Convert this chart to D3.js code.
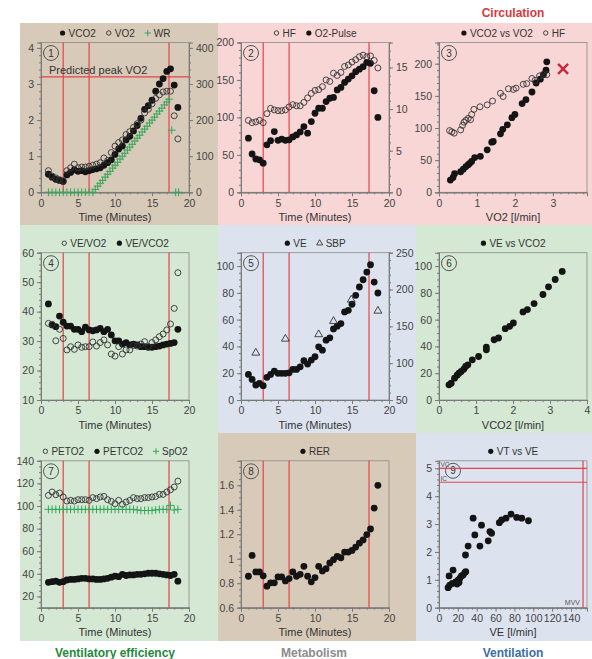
<!DOCTYPE html>
<html>
<head>
<meta charset="utf-8">
<script src="https://cdn.jsdelivr.net/npm/d3@7"></script>
<style>
body { margin: 0; background: #fff; }
text { font-family: "Liberation Sans Narrow", "Liberation Sans", Arial, sans-serif; }
</style>
</head>
<body>
<div id="chart"></div>
<script>
// time of each breath-average sample (minutes)
var time = [1, 1.5, 2, 2.5, 3, 3.5, 4, 4.5, 5, 5.5, 6, 6.5, 7, 7.5, 8, 8.5, 9, 9.5, 10, 10.5, 11, 11.5, 12, 12.5, 13, 13.5, 14, 14.5, 15, 15.5, 16, 16.5, 17, 17.5, 18, 18.5];

// panel 1
var vco2 = [0.50, 0.42, 0.36, 0.33, 0.30, 0.48, 0.55, 0.62, 0.58, 0.60, 0.57, 0.60, 0.63, 0.65, 0.68, 0.75, 0.82, 0.90, 1.05, 1.20, 1.28, 1.45, 1.55, 1.70, 1.85, 2.05, 2.30, 2.40, 2.55, 2.80, 3.00, 3.15, 3.35, 3.42, 2.97, 2.35];
var vo2 = [0.60, 0.45, 0.40, 0.35, 0.32, 0.60, 0.68, 0.78, 0.68, 0.70, 0.70, 0.72, 0.75, 0.78, 0.82, 0.95, 0.88, 1.10, 1.28, 1.38, 1.45, 1.60, 1.68, 1.80, 1.90, 2.00, 2.20, 2.30, 2.45, 2.60, 2.70, 2.78, 2.80, 2.80, 2.12, 1.48];
var wrTime = [1, 1.5, 2, 2.5, 3, 3.5, 4, 4.5, 5, 5.5, 6, 6.5, 7, 7.33, 7.67, 8, 8.33, 8.67, 9, 9.33, 9.67, 10, 10.33, 10.67, 11, 11.33, 11.67, 12, 12.33, 12.67, 13, 13.33, 13.67, 14, 14.33, 14.67, 15, 15.33, 15.67, 16, 16.33, 16.67, 17, 17.33, 17.67, 18.2, 18.6];
var wr = [0, 0, 0, 0, 0, 0, 0, 0, 0, 0, 0, 0, 0, 8, 17, 25, 33, 42, 50, 58, 67, 75, 83, 92, 100, 108, 117, 125, 133, 142, 150, 158, 167, 175, 183, 192, 200, 208, 217, 225, 233, 242, 250, 258, 172, 0, 0];

// panel 2
var hf = [96, 93, 94, 96, 93, 105, 112, 110, 109, 109, 110, 114, 117, 115.5, 115.5, 120, 126, 132, 136, 137, 141, 150, 148, 159, 156, 160, 168, 170, 174, 177, 181, 183, 181, 182, 176, 166];
var o2pulse = [6.5, 4.6, 4.0, 3.9, 3.5, 5.7, 6.2, 7.3, 6.25, 6.4, 6.25, 6.3, 6.65, 6.9, 7.25, 7.9, 7.1, 8.5, 9.5, 10.1, 10.1, 10.9, 11.3, 11.4, 12.3, 12.6, 13.2, 13.6, 14.0, 14.5, 14.8, 15.1, 15.6, 15.5, 12.2, 9.0];

// panel 3
var p3vo2 = [0.30, 0.37, 0.41, 0.57, 0.64, 0.71, 0.77, 0.81, 0.86, 0.94, 1.09, 1.27, 1.39, 1.43, 1.62, 1.68, 1.80, 1.92, 2.00, 2.19, 2.29, 2.45, 2.56, 2.67, 2.75, 2.82, 2.84];
var p3vco2 = [19, 23, 29, 32, 36, 40, 43, 45, 48, 54, 56, 66, 78, 79, 91, 98, 105, 116, 121, 138, 144, 156, 170, 176, 183, 190, 203];
var p3hfVo2 = [0.28, 0.34, 0.40, 0.57, 0.62, 0.66, 0.71, 0.77, 0.83, 0.86, 0.92, 1.08, 1.27, 1.41, 1.62, 1.69, 1.83, 1.96, 2.03, 2.22, 2.31, 2.45, 2.53, 2.65, 2.75, 2.84];
var p3hf = [96, 94, 92, 97, 104, 109, 112, 115, 113, 121, 129, 133, 136, 142, 154, 149, 161, 160, 162, 168, 169, 177, 174, 181, 183, 183];
var peakMark = [3.27, 192];

// panel 4
var veVo2 = [36.0, 35.7, 30.1, 34.0, 30.9, 27.0, 28.1, 27.2, 28.7, 27.9, 28.1, 28.1, 29.7, 28.3, 29.5, 30.4, 28.7, 25.6, 24.9, 28.1, 25.6, 27.0, 27.0, 28.5, 28.3, 29.0, 29.8, 28.1, 29.5, 30.4, 31.5, 32.4, 33.8, 35.8, 41.1, 53.2];
var veVco2 = [42.6, 35.5, 34.9, 38.5, 36.4, 35.1, 35.1, 34.0, 34.0, 33.2, 34.7, 33.8, 33.5, 33.8, 34.3, 33.2, 34.0, 32.1, 30.1, 30.1, 29.0, 29.5, 28.7, 29.0, 28.7, 28.1, 28.1, 27.9, 27.9, 28.1, 28.3, 28.7, 29.0, 29.2, 29.5, 34.0];

// panel 5
var ve = [19.1, 15.4, 11.2, 12.4, 10.7, 16.9, 19.1, 21.6, 19.9, 19.9, 19.9, 20.3, 22.8, 22.8, 24.8, 29.3, 26.8, 29.8, 32.3, 39.7, 37.2, 44.7, 46.4, 53.1, 55.1, 57.1, 65.8, 67.0, 71.5, 78.2, 84.4, 89.8, 95.5, 101, 88.1, 79.9];
var sbpTime = [2, 6, 10.5, 12.5, 14.9, 18.5];
var sbp = [114, 133, 139, 157, 186, 171];

// panel 6
var p6vco2 = [0.27, 0.33, 0.42, 0.49, 0.54, 0.60, 0.67, 0.72, 0.78, 0.90, 1.07, 1.28, 1.28, 1.49, 1.61, 1.79, 1.91, 2.01, 2.27, 2.39, 2.57, 2.81, 2.96, 3.14, 3.33];
var p6ve = [11.3, 12.5, 16.3, 18.5, 20, 21.3, 23, 25, 26.3, 30, 32.5, 39.5, 37.5, 45, 46.3, 53.3, 55, 57.5, 65.8, 67.5, 72, 78.8, 84.5, 90, 96];

// panel 7
var peto2 = [109.4, 112.4, 110, 111.5, 108, 104.4, 105, 104.4, 105.6, 105.6, 105.6, 105, 107.4, 106.5, 108, 108.5, 105.6, 104.1, 102, 105, 101.5, 103.5, 105, 107.4, 106.5, 106.5, 107.4, 107.4, 108, 108.5, 110.3, 110.3, 112.4, 114.4, 116.8, 122];
var petco2 = [32.5, 33, 33.5, 32.5, 33, 34.5, 35, 35, 35.5, 36, 36, 35.5, 35.5, 35, 35, 35.5, 36, 37, 38, 37.5, 39.5, 38.5, 39, 39, 39.5, 39.5, 40, 40.5, 40.5, 40.5, 40, 39.5, 39, 38.5, 39.5, 33.5];
var spo2 = [97, 97, 97, 97, 97, 97, 97, 97, 97, 97, 97, 97, 97, 97, 97, 97, 97, 97, 97, 97, 97, 97, 97, 97, 96.5, 96, 96, 96, 96, 96.5, 97, 97, 97, 100.5, 96.5, 97];

// panel 8
var rer = [0.857, 1.027, 0.892, 0.892, 0.86, 0.776, 0.803, 0.803, 0.851, 0.851, 0.819, 0.838, 0.892, 0.857, 0.873, 0.938, 0.857, 0.811, 0.846, 0.938, 0.9, 0.919, 0.965, 0.992, 1.019, 1.008, 1.054, 1.054, 1.068, 1.095, 1.127, 1.154, 1.197, 1.243, 1.414, 1.6];

// panel 9
var p9ve = [9.6, 11.4, 10.7, 14.9, 17.8, 19.2, 20.3, 22, 23.8, 25.6, 27.4, 28.4, 28.1, 30.9, 36.2, 38, 43.4, 45.1, 52.2, 54, 55.8, 64, 66.5, 71.1, 76.4, 82.4, 87.8, 94.9, 14.2, 21.3];
var p9vt = [0.72, 0.81, 1.14, 1.35, 0.93, 0.85, 0.99, 1.05, 1.14, 1.17, 1.26, 1.29, 1.89, 2.21, 3.21, 2.61, 2.21, 2.96, 2.40, 2.73, 2.67, 3.05, 3.15, 3.21, 3.36, 3.24, 3.21, 3.12, 0.87, 0.90];

// thresholds
var phaseLines = [3, 6.5, 17.3];
var predictedPeakVo2 = 3.2;
var vc = 5.0, ic = 4.5, mvv = 152.8;

var BROWN = '#d8cab8', PINK = '#f8d6d6', GREEN = '#d4e8d3', BLUE = '#dde3ee';
var RED = '#e5434a', PLUSGREEN = '#35a65a';

var svg = d3.select('#chart').append('svg').attr('width', 592).attr('height', 659);

var cols = [{ x0: 20, x1: 218, px: 41 }, { x0: 218, x1: 416, px: 241 }, { x0: 416, x1: 592, px: 439 }];
var rows = [{ y0: 23, y1: 225, top: 42.5, bot: 192.3 }, { y0: 225, y1: 433, top: 252.7, bot: 400 }, { y0: 433, y1: 641, top: 460.8, bot: 607.7 }];
var W = 148;

function styleAxis(a, fs) {
	a.select('.domain').attr('stroke', '#7a7a7a');
	a.selectAll('.tick line').attr('stroke', '#7a7a7a');
	a.selectAll('.tick text').attr('fill', '#444').style('font-size', fs + 'px');
}

function addAxis(g, gen, scale, major, minor, fmt, tx, ty) {
	var m = g.append('g').attr('transform', 'translate(' + tx + ',' + ty + ')')
		.call(gen(scale).tickValues(minor).tickSize(2).tickFormat(''));
	styleAxis(m, 10.5);
	var a = g.append('g').attr('transform', 'translate(' + tx + ',' + ty + ')')
		.call(gen(scale).tickValues(major).tickSize(4).tickPadding(3).tickFormat(fmt || d3.format('')));
	styleAxis(a, 10.5);
}

function marker(g, type, cx, cy, r) {
	if (type == 'filled') {
		g.append('circle').attr('cx', cx).attr('cy', cy).attr('r', r).attr('fill', '#141414');
	} else if (type == 'open') {
		g.append('circle').attr('cx', cx).attr('cy', cy).attr('r', r - 0.4).attr('fill', 'none').attr('stroke', '#333').attr('stroke-width', 0.9);
	} else if (type == 'plus') {
		g.append('path').attr('d', 'M' + (cx - r - 0.5) + ',' + cy + 'H' + (cx + r + 0.5) + 'M' + cx + ',' + (cy - r - 0.5) + 'V' + (cy + r + 0.5))
			.attr('stroke', PLUSGREEN).attr('stroke-width', 1);
	} else if (type == 'tri') {
		g.append('path').attr('d', d3.symbol().type(d3.symbolTriangle).size(r * r * 2.3)())
			.attr('transform', 'translate(' + cx + ',' + cy + ')')
			.attr('fill', 'none').attr('stroke', '#333').attr('stroke-width', 0.9);
	}
}

function Panel(o) {
	var c = cols[o.col], r = rows[o.row];
	svg.append('rect').attr('x', c.x0).attr('y', r.y0).attr('width', c.x1 - c.x0).attr('height', r.y1 - r.y0).attr('fill', o.bg);
	var left = c.px, right = c.px + W, top = r.top, bot = r.bot;
	var x = d3.scaleLinear().domain(o.xd).range([left, right]);
	var y = d3.scaleLinear().domain(o.yd).range([bot, top]);
	var g = svg.append('g');

	g.append('rect').attr('x', left).attr('y', top).attr('width', W).attr('height', bot - top)
		.attr('fill', 'none').attr('stroke', '#8a8a8a').attr('stroke-width', 0.8);

	addAxis(g, d3.axisBottom, x, o.xMajor, o.xMinor, o.xFmt, 0, bot);
	addAxis(g, d3.axisLeft, y, o.yMajor, o.yMinor, o.yFmt, left, 0);
	var y2 = null;
	if (o.y2d) {
		y2 = d3.scaleLinear().domain(o.y2d).range([bot, top]);
		addAxis(g, d3.axisRight, y2, o.y2Major, o.y2Minor, null, right, 0);
	}

	g.append('text').attr('x', (left + right) / 2).attr('y', bot + 28.7)
		.attr('text-anchor', 'middle').style('font-size', '11px').attr('fill', '#333').text(o.xTitle);

	// legend
	var lg = g.append('g');
	var lx = 0;
	o.legend.forEach(function(it) {
		marker(lg, it[0], lx + 3, 0, 2.6);
		var t = lg.append('text').attr('x', lx + 9).attr('y', 3.6).style('font-size', '10px').attr('fill', '#333').text(it[1]);
		lx += 9 + t.node().getComputedTextLength() + 10;
	});
	lx -= 10;
	lg.attr('transform', 'translate(' + ((left + right) / 2 - lx / 2) + ',' + (top - 9.5) + ')');

	// circled panel number
	var nx = left + (o.numDx || 10), ny = top + (o.numDy || 10.5);
	g.append('circle').attr('cx', nx).attr('cy', ny).attr('r', 7.5).attr('fill', 'none').attr('stroke', '#555').attr('stroke-width', 1);
	g.append('text').attr('x', nx).attr('y', ny + 3.5).attr('text-anchor', 'middle').style('font-size', '10px').attr('fill', '#333').text(o.num);

	return { x: x, y: y, y2: y2, g: g, left: left, right: right, top: top, bot: bot };
}

function vLines(p, vals) {
	p.g.selectAll(null).data(vals).enter().append('line')
		.attr('x1', function(d) { return p.x(d); }).attr('x2', function(d) { return p.x(d); })
		.attr('y1', p.top).attr('y2', p.bot)
		.attr('stroke', RED).attr('stroke-width', 1.2);
}

function points(p, xs, ys, type, yScale) {
	var ys2 = yScale || p.y;
	xs.forEach(function(v, i) {
		marker(p.g, type, p.x(v), ys2(ys[i]), 3.4);
	});
}

var timeMajor = [0, 5, 10, 15, 20], timeMinor = d3.range(0, 20.01, 1);
var T = 'Time (Minutes)';

// 1
var p1 = Panel({ col: 0, row: 0, bg: BROWN, xd: [0, 20], yd: [0, 4.15], xMajor: timeMajor, xMinor: timeMinor,
	yMajor: [0, 1, 2, 3, 4], yMinor: d3.range(0, 4.15, 0.2), y2d: [0, 415], y2Major: [0, 100, 200, 300, 400], y2Minor: d3.range(0, 415, 20),
	xTitle: T, num: '1', legend: [['filled', 'VCO2'], ['open', 'VO2'], ['plus', 'WR']] });
vLines(p1, phaseLines);
p1.g.append('line').attr('x1', p1.left).attr('x2', p1.right).attr('y1', p1.y(predictedPeakVo2)).attr('y2', p1.y(predictedPeakVo2))
	.attr('stroke', RED).attr('stroke-width', 1.2);
p1.g.append('text').attr('x', p1.left + 8).attr('y', p1.y(predictedPeakVo2) - 3).style('font-size', '11px').attr('fill', '#333').text('Predicted peak VO2');
points(p1, time, vco2, 'filled');
points(p1, time, vo2, 'open');
points(p1, wrTime, wr, 'plus', p1.y2);

// 2
var p2 = Panel({ col: 1, row: 0, bg: PINK, xd: [0, 20], yd: [0, 200], xMajor: timeMajor, xMinor: timeMinor,
	yMajor: [0, 50, 100, 150, 200], yMinor: d3.range(0, 201, 10), y2d: [0, 18], y2Major: [0, 5, 10, 15], y2Minor: d3.range(0, 18.01, 1),
	xTitle: T, num: '2', legend: [['open', 'HF'], ['filled', 'O2-Pulse']] });
vLines(p2, phaseLines);
points(p2, time, o2pulse, 'filled', p2.y2);
points(p2, time, hf, 'open');

// 3
var p3 = Panel({ col: 2, row: 0, bg: PINK, xd: [0, 3.9], yd: [0, 233], xMajor: [0, 1, 2, 3], xMinor: d3.range(0, 3.9, 0.2),
	yMajor: [0, 50, 100, 150, 200], yMinor: d3.range(0, 233, 10),
	xTitle: 'VO2 [l/min]', num: '3', legend: [['filled', 'VCO2 vs VO2'], ['open', 'HF']] });
points(p3, p3vo2, p3vco2, 'filled');
points(p3, p3hfVo2, p3hf, 'open');
var mx = p3.x(peakMark[0]), my = p3.y(peakMark[1]);
p3.g.append('path').attr('d', 'M' + (mx - 5) + ',' + (my - 5) + 'L' + (mx + 5) + ',' + (my + 5) + 'M' + (mx - 5) + ',' + (my + 5) + 'L' + (mx + 5) + ',' + (my - 5))
	.attr('stroke', '#c8283a').attr('stroke-width', 2.4);

// 4
var p4 = Panel({ col: 0, row: 1, bg: GREEN, xd: [0, 20], yd: [10, 60], xMajor: timeMajor, xMinor: timeMinor,
	yMajor: [10, 20, 30, 40, 50, 60], yMinor: d3.range(10, 60.1, 2),
	xTitle: T, num: '4', legend: [['open', 'VE/VO2'], ['filled', 'VE/VCO2']] });
vLines(p4, phaseLines);
points(p4, time, veVco2, 'filled');
points(p4, time, veVo2, 'open');

// 5
var p5 = Panel({ col: 1, row: 1, bg: BLUE, xd: [0, 20], yd: [0, 110], xMajor: timeMajor, xMinor: timeMinor,
	yMajor: [0, 20, 40, 60, 80, 100], yMinor: d3.range(0, 110, 5), y2d: [50, 250], y2Major: [50, 100, 150, 200, 250], y2Minor: d3.range(50, 251, 10),
	xTitle: T, num: '5', legend: [['filled', 'VE'], ['tri', 'SBP']] });
vLines(p5, phaseLines);
points(p5, time, ve, 'filled');
points(p5, sbpTime, sbp, 'tri', p5.y2);

// 6
var p6 = Panel({ col: 2, row: 1, bg: GREEN, xd: [0, 4], yd: [0, 110], xMajor: [0, 1, 2, 3, 4], xMinor: d3.range(0, 4.01, 0.2),
	yMajor: [0, 20, 40, 60, 80, 100], yMinor: d3.range(0, 110, 5),
	xTitle: 'VCO2 [l/min]', num: '6', legend: [['filled', 'VE vs VCO2']] });
points(p6, p6vco2, p6ve, 'filled');

// 7
var p7 = Panel({ col: 0, row: 2, bg: GREEN, xd: [0, 20], yd: [10, 140], xMajor: timeMajor, xMinor: timeMinor,
	yMajor: [20, 40, 60, 80, 100, 120, 140], yMinor: d3.range(10, 140.1, 5),
	xTitle: T, num: '7', legend: [['open', 'PETO2'], ['filled', 'PETCO2'], ['plus', 'SpO2']] });
vLines(p7, phaseLines);
points(p7, time, petco2, 'filled');
points(p7, time, peto2, 'open');
points(p7, time, spo2, 'plus');

// 8
var p8 = Panel({ col: 1, row: 2, bg: BROWN, xd: [0, 20], yd: [0.6, 1.8], xMajor: timeMajor, xMinor: timeMinor,
	yMajor: [0.6, 0.8, 1, 1.2, 1.4, 1.6], yMinor: d3.range(0.6, 1.8, 0.05), yFmt: function(d) { return +d.toFixed(1); },
	xTitle: T, num: '8', legend: [['filled', 'RER']] });
vLines(p8, phaseLines);
points(p8, time, rer, 'filled');

// 9
var p9 = Panel({ col: 2, row: 2, bg: BLUE, xd: [0, 157], yd: [0, 5.27], xMajor: [0, 20, 40, 60, 80, 100, 120, 140], xMinor: d3.range(0, 157, 5),
	yMajor: [0, 1, 2, 3, 4, 5], yMinor: d3.range(0, 5.27, 0.2),
	xTitle: 'VE [l/min]', num: '9', numDx: 14, numDy: 10, legend: [['filled', 'VT vs VE']] });
[vc, ic].forEach(function(v) {
	p9.g.append('line').attr('x1', p9.left).attr('x2', p9.right).attr('y1', p9.y(v)).attr('y2', p9.y(v)).attr('stroke', RED).attr('stroke-width', 1.2);
});
p9.g.append('line').attr('x1', p9.x(mvv)).attr('x2', p9.x(mvv)).attr('y1', p9.top).attr('y2', p9.bot).attr('stroke', RED).attr('stroke-width', 1.2);
p9.g.append('text').attr('x', p9.left + 1.5).attr('y', p9.y(vc) - 1.5).style('font-size', '6.5px').attr('fill', '#555').text('VC');
p9.g.append('text').attr('x', p9.left + 1.5).attr('y', p9.y(ic) - 1.5).style('font-size', '6.5px').attr('fill', '#555').text('IC');
p9.g.append('text').attr('x', p9.x(mvv) - 3).attr('y', p9.bot - 3).attr('text-anchor', 'end').style('font-size', '7px').attr('fill', '#555').text('MVV');
points(p9, p9ve, p9vt, 'filled');

// group titles
svg.append('text').attr('x', 513).attr('y', 17).attr('text-anchor', 'middle').style('font-size', '12px').style('font-weight', 'bold').attr('fill', '#d9383e').text('Circulation');
svg.append('text').attr('x', 115).attr('y', 657).attr('text-anchor', 'middle').style('font-size', '12px').style('font-weight', 'bold').attr('fill', '#1f8a3c').text('Ventilatory efficiency');
svg.append('text').attr('x', 314).attr('y', 657).attr('text-anchor', 'middle').style('font-size', '12px').style('font-weight', 'bold').attr('fill', '#8c8c8c').text('Metabolism');
svg.append('text').attr('x', 513).attr('y', 657).attr('text-anchor', 'middle').style('font-size', '12px').style('font-weight', 'bold').attr('fill', '#3c6ea8').text('Ventilation');
</script>
</body>
</html>
